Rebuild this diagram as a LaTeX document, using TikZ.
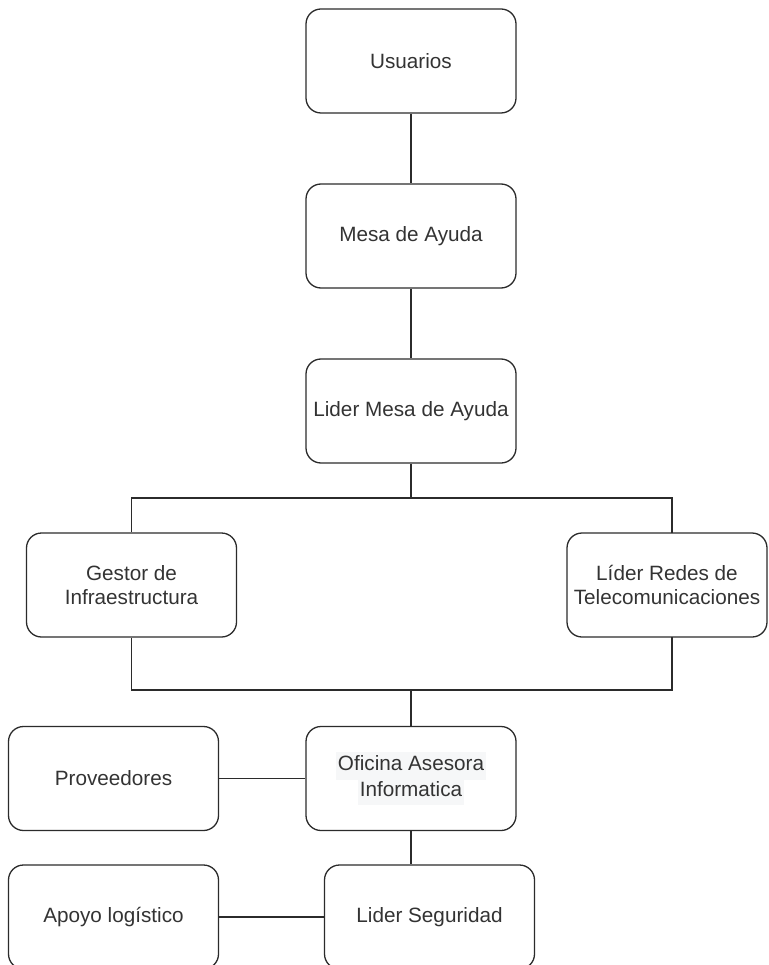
\documentclass[tikz,border=0pt]{standalone}
\usepackage{fontspec}
\setmainfont{Liberation Sans}
\definecolor{edge}{HTML}{2B2B2B}
\definecolor{txt}{HTML}{333333}
\definecolor{hl}{HTML}{F6F7F8}
\newcommand{\hlbox}[1]{{\setlength{\fboxsep}{1.5pt}\colorbox{hl}{\strut #1}}}
\begin{document}
\begin{tikzpicture}[x=1pt,y=1pt,
  unit/.style={draw=edge, line width=1.3pt, rounded corners=15pt,
    minimum width=210pt, minimum height=104pt, align=center,
    text=txt, font=\fontsize{20.7}{24.5}\selectfont, inner sep=2pt},
  link/.style={draw=edge, line width=1.3pt}]
\clip (0,0) rectangle (768,-965);

% chain of support levels
\node[unit] (U) at (411,-61)   {Usuarios};
\node[unit] (M) at (411,-236)  {Mesa de Ayuda};
\node[unit] (L) at (411,-411)  {Lider Mesa de Ayuda};
\node[unit] (G) at (131.5,-585) {Gestor de\\Infraestructura};
\node[unit, minimum width=200pt] (R) at (667,-585) {Líder Redes de\\Telecomunicaciones};
\node[unit] (O) at (411,-778.5) {\hlbox{Oficina Asesora}\\[-3pt]\hlbox{Informatica}};
\node[unit] (P) at (113.5,-778.5) {Proveedores};
\node[unit] (S) at (429.5,-917) {Lider Seguridad};
\node[unit] (A) at (113.5,-917) {Apoyo logístico};

% bus points
\coordinate (b1) at (411,-498);
\coordinate (b2) at (411,-690);
\coordinate (rt) at (672,-533);
\coordinate (rb) at (672,-637);

\draw[link] (U.south) -- (M.north);
\draw[link] (M.south) -- (L.north);
\draw[link] (L.south) -- (b1);
\draw[link] (G.north) |- (b1) -| (rt);
\draw[link] (G.south) |- (b2) -| (rb);
\draw[link] (b2) -- (O.north);
\draw[link] (P.east) -- (O.west);
\draw[link] (O.south) -- (O.south |- S.north);
\draw[link] (A.east) -- (S.west);
\end{tikzpicture}
\end{document}
